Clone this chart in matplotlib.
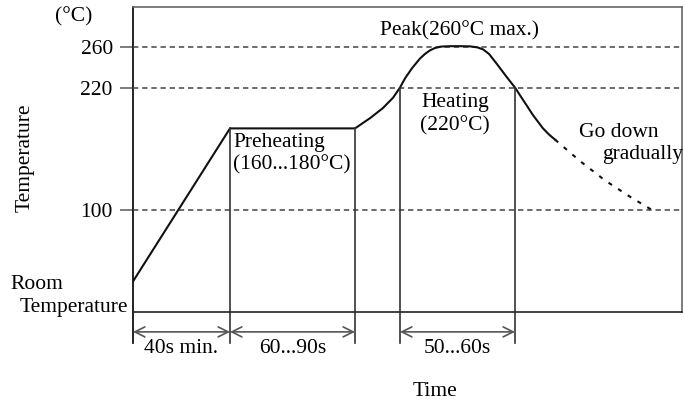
import matplotlib.pyplot as plt

plt.rcParams['font.family'] = ['Liberation Serif', 'DejaVu Serif']

# reflow profile (schematic time units, degC above room temperature baseline)
profile_t = [0, 97, 222, 237, 250, 260, 267, 272, 279, 287, 292, 297, 302, 308, 317, 327, 337, 344, 350, 356, 364, 374, 382, 390, 400, 410, 416, 422]
profile_T = [30, 180, 180, 190, 200, 210, 220, 229, 239, 248.5, 253, 256.5, 258.8, 260.2, 260.6, 260.6, 260.4, 259.5, 257.5, 253, 243, 230, 220, 208, 193, 180, 174, 169]
cool_t = [422, 447, 472, 497, 519]
cool_T = [169, 148, 129, 113, 100]

ref_levels = [100, 220, 260]
preheat_edges = [97, 222]
heat_edges = [267, 382]
preheat_level = 180
heat_level = 220
spans = [(0, 97, '40s min.'), (97, 222, '60...90s'), (267, 382, '50...60s')]

fs = 15.5
fig = plt.figure(figsize=(6.84, 4.04), dpi=100)
ax = fig.add_axes([133/684, (404-312)/404, (682-133)/684, (312-7)/404])
ax.set_xlim(0, 549)
ax.set_ylim(0, 299)

for s in ['top', 'right']:
    ax.spines[s].set_color('#666')
    ax.spines[s].set_linewidth(1.2)
ax.spines['bottom'].set_color('#222')
ax.spines['bottom'].set_linewidth(1.2)
ax.spines['left'].set_visible(False)
ax.plot([0, 0], [-30, 299], color='#111', lw=1.3, clip_on=False)

ax.set_xticks([])
ax.set_yticks(ref_levels)
ax.set_yticklabels([str(v) for v in ref_levels], fontsize=fs)
ax.tick_params(axis='y', length=9.5, width=1.2, color='#666', pad=5)

for v in ref_levels:
    ax.plot([0, 549], [v, v], color='#444', lw=1.1, dashes=(3.5, 2.5))

ax.plot(profile_t, profile_T, color='#111', lw=1.5, solid_joinstyle='round')
ax.plot(cool_t, cool_T, color='#111', lw=1.5, dashes=(2.0, 3.5))

for t in preheat_edges:
    ax.plot([t, t], [-30, preheat_level], color='#333', lw=1.2, clip_on=False)
for t in heat_edges:
    ax.plot([t, t], [-30, heat_level], color='#333', lw=1.2, clip_on=False)

for a, b, lab in spans:
    ax.annotate('', xy=(a, -19.5), xytext=(b, -19.5), annotation_clip=False,
                arrowprops=dict(arrowstyle='<->', color='#555', lw=1.2,
                                mutation_scale=18, shrinkA=0, shrinkB=0))
    ax.text((a + b) / 2, -36, lab, ha='center', va='center', fontsize=fs, clip_on=False)

ax.text(326, 276, 'Peak(260°C max.)', ha='center', va='center', fontsize=fs)
ax.text(322, 205, 'Heating', ha='center', va='center', fontsize=fs)
ax.text(322, 183, '(220°C)', ha='center', va='center', fontsize=fs)
ax.text(100, 166, 'Preheating', ha='left', va='center', fontsize=fs)
ax.text(100, 144, '(160...180°C)', ha='left', va='center', fontsize=fs)
ax.text(446, 175.5, 'Go down', ha='left', va='center', fontsize=fs)
ax.text(469, 154, 'gradually', ha='left', va='center', fontsize=fs, clip_on=False)

ax.text(302, -78, 'Time', ha='center', va='center', fontsize=fs, clip_on=False)
ax.text(-108, 151, 'Temperature', ha='center', va='center', rotation=90, fontsize=fs, clip_on=False)
ax.text(-59, 289, '(°C)', ha='center', va='center', fontsize=fs, clip_on=False)
ax.text(-123, 26.5, 'Room', ha='left', va='center', fontsize=fs, clip_on=False)
ax.text(-5, 4, 'Temperature', ha='right', va='center', fontsize=fs, clip_on=False)

fig.savefig('out.png', dpi=100)
